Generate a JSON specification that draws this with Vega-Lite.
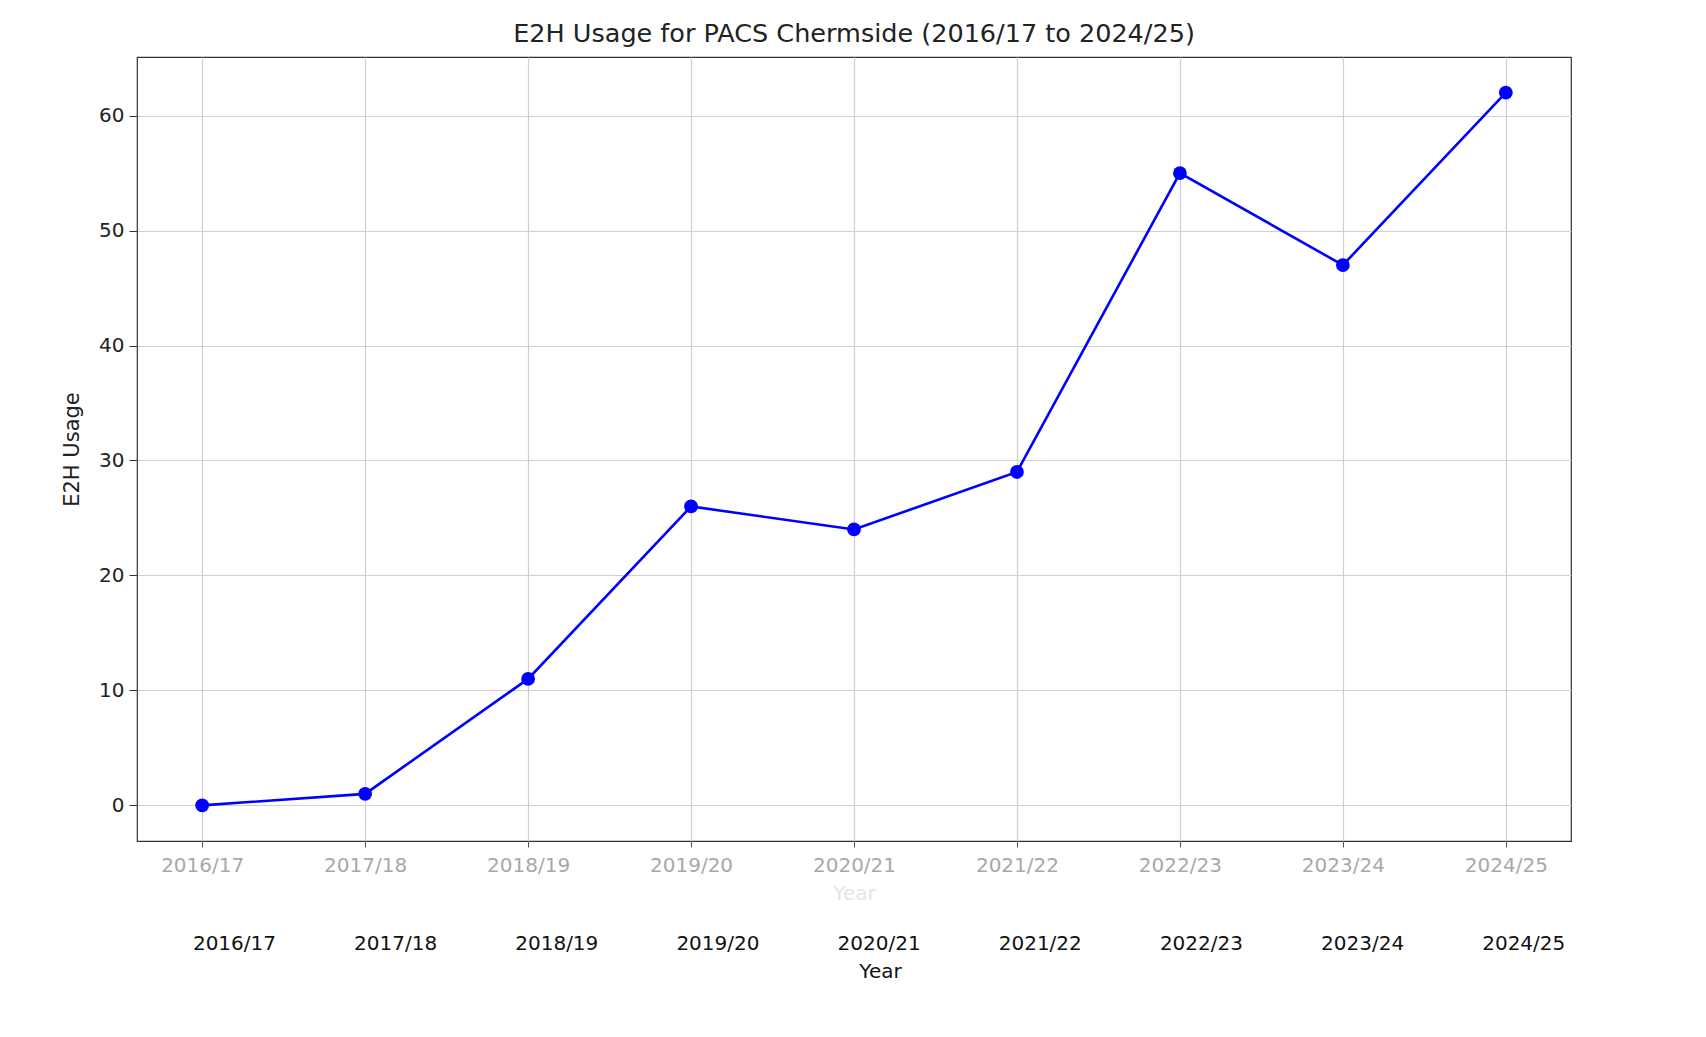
{
  "$schema": "https://vega.github.io/schema/vega-lite/v6.json",
  "autosize": "none",
  "width": 1434,
  "height": 784,
  "padding": {"left": 137, "top": 57, "right": 135, "bottom": 196},
  "background": "#ffffff",
  "config": {
    "font": "DejaVu Sans",
    "view": {"stroke": "#333333", "strokeWidth": 1.2, "fill": "#ffffff"}
  },
  "title": {
    "text": "E2H Usage for PACS Chermside (2016/17 to 2024/25)",
    "fontSize": 25.5,
    "fontWeight": "normal",
    "color": "#222222",
    "anchor": "middle",
    "offset": 10
  },
  "data": {
    "values": [
      {"year": "2016/17", "usage": 0},
      {"year": "2017/18", "usage": 1},
      {"year": "2018/19", "usage": 11},
      {"year": "2019/20", "usage": 26},
      {"year": "2020/21", "usage": 24},
      {"year": "2021/22", "usage": 29},
      {"year": "2022/23", "usage": 55},
      {"year": "2023/24", "usage": 47},
      {"year": "2024/25", "usage": 62}
    ]
  },
  "encoding": {
    "y": {
      "field": "usage",
      "type": "quantitative",
      "scale": {"domain": [-3.1, 65.1], "nice": false, "zero": false},
      "axis": {
        "title": "E2H Usage",
        "values": [0, 10, 20, 30, 40, 50, 60],
        "titleFontSize": 21,
        "titleFontWeight": "normal",
        "titleColor": "#222222",
        "titlePadding": 16,
        "labelFontSize": 20,
        "labelColor": "#222222",
        "labelPadding": 5,
        "tickSize": 8,
        "tickColor": "#333333",
        "domain": false,
        "grid": true,
        "gridColor": "#d0d0d0",
        "gridWidth": 1.2
      }
    }
  },
  "layer": [
    {
      "encoding": {
        "x": {
          "field": "year",
          "type": "ordinal",
          "scale": {"type": "point", "padding": 0.4},
          "axis": {
            "title": "Year",
            "titleFontSize": 20,
            "titleFontWeight": "normal",
            "titleColor": "#e4e4e4",
            "titlePadding": 8,
            "labelAngle": 0,
            "labelFontSize": 20,
            "labelColor": "#a8a8a8",
            "labelPadding": 8,
            "tickSize": 6,
            "tickColor": "#555555",
            "domain": false,
            "grid": true,
            "gridColor": "#d0d0d0",
            "gridWidth": 1.2
          }
        }
      },
      "layer": [
        {"mark": {"type": "line", "color": "#0000ff", "strokeWidth": 2.6}},
        {"mark": {"type": "point", "filled": true, "color": "#0000ff", "opacity": 1, "size": 190}}
      ]
    },
    {
      "mark": {"type": "point", "opacity": 0},
      "encoding": {
        "x": {
          "field": "year",
          "type": "ordinal",
          "scale": {"type": "point", "padding": 0.449, "align": 0.67},
          "axis": {
            "orient": "bottom",
            "offset": 88,
            "title": "Year",
            "titleFontSize": 20,
            "titleFontWeight": "normal",
            "titleColor": "#111111",
            "titlePadding": 8,
            "titleX": 743,
            "labelAngle": 0,
            "labelFontSize": 20,
            "labelColor": "#111111",
            "labelPadding": 4,
            "ticks": false,
            "tickSize": 0,
            "domain": false,
            "grid": false
          }
        }
      }
    }
  ],
  "resolve": {"scale": {"x": "independent"}, "axis": {"x": "independent"}}
}
